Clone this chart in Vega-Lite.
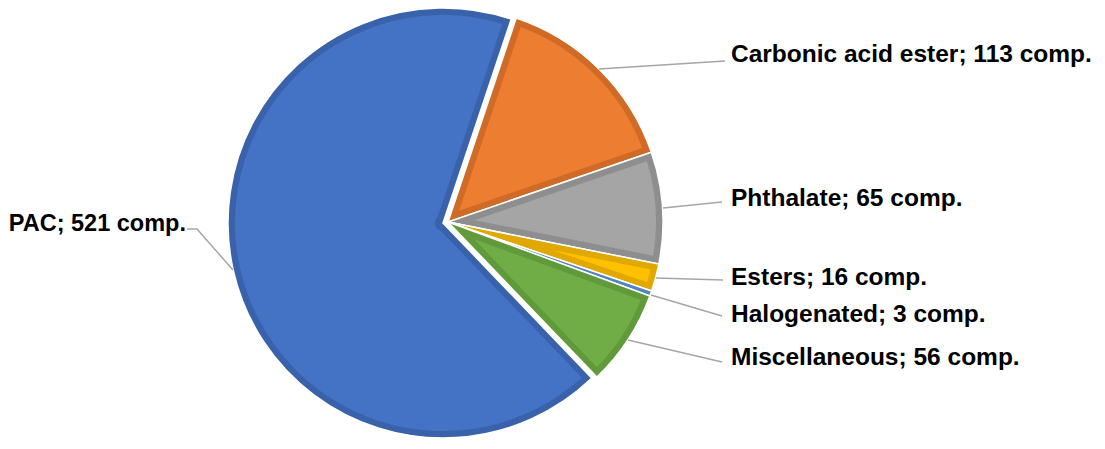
{
  "$schema": "https://vega.github.io/schema/vega-lite/v6.json",
  "width": 1105,
  "height": 449,
  "autosize": {"type": "fit", "contains": "padding"},
  "padding": 0,
  "background": "white",
  "config": {"view": {"stroke": null}},
  "datasets": {
    "slices": [
      {"category": "Carbonic acid ester", "count": 113, "order": 1},
      {"category": "Phthalate", "count": 65, "order": 2},
      {"category": "Esters", "count": 16, "order": 3},
      {"category": "Halogenated", "count": 3, "order": 4},
      {"category": "Miscellaneous", "count": 56, "order": 5},
      {"category": "PAC", "count": 521, "order": 6}
    ],
    "labels": [
      {"category": "Carbonic acid ester", "label": "Carbonic acid ester; 113 comp.", "lx": 731, "ly": 62},
      {"category": "Phthalate", "label": "Phthalate; 65 comp.", "lx": 731, "ly": 206},
      {"category": "Esters", "label": "Esters; 16 comp.", "lx": 731, "ly": 285},
      {"category": "Halogenated", "label": "Halogenated; 3 comp.", "lx": 731, "ly": 322},
      {"category": "Miscellaneous", "label": "Miscellaneous; 56 comp.", "lx": 731, "ly": 365},
      {"category": "PAC", "label": "PAC; 521 comp.", "lx": 186, "ly": 231}
    ],
    "leaders": [
      {"category": "Carbonic acid ester", "seq": 1, "px": 599, "py": 69},
      {"category": "Carbonic acid ester", "seq": 2, "px": 725, "py": 61},
      {"category": "Phthalate", "seq": 1, "px": 663, "py": 208},
      {"category": "Phthalate", "seq": 2, "px": 722, "py": 202},
      {"category": "Esters", "seq": 1, "px": 656, "py": 278},
      {"category": "Esters", "seq": 2, "px": 723, "py": 280},
      {"category": "Halogenated", "seq": 1, "px": 651, "py": 295},
      {"category": "Halogenated", "seq": 2, "px": 722, "py": 316},
      {"category": "Miscellaneous", "seq": 1, "px": 628, "py": 340},
      {"category": "Miscellaneous", "seq": 2, "px": 722, "py": 362},
      {"category": "PAC", "seq": 1, "px": 187, "py": 229},
      {"category": "PAC", "seq": 2, "px": 197, "py": 229},
      {"category": "PAC", "seq": 3, "px": 233, "py": 270}
    ]
  },
  "resolve": {"scale": {"color": "independent"}},
  "layer": [
    {
      "data": {"name": "slices"},
      "transform": [
        {"stack": "count", "groupby": [], "sort": [{"field": "order", "order": "ascending"}], "as": ["t0", "t1"]},
        {"filter": "datum.category === 'PAC'"}
      ],
      "mark": {"type": "arc", "outerRadius": 215, "innerRadius": 0, "stroke": "white", "strokeWidth": 1.5},
      "encoding": {
        "x": {"datum": 443, "type": "quantitative", "scale": {"domain": [0, 1105], "nice": false, "zero": false}, "axis": null},
        "y": {"datum": 223, "type": "quantitative", "scale": {"domain": [0, 449], "nice": false, "zero": false, "reverse": true}, "axis": null},
        "theta": {"field": "t0", "type": "quantitative", "stack": null, "scale": {"domain": [0, 774], "range": [0.3229, 6.6061], "nice": false, "zero": false}},
        "theta2": {"field": "t1"},
        "color": {"field": "category", "type": "nominal", "legend": null,
          "scale": {"domain": ["Carbonic acid ester", "Phthalate", "Esters", "Halogenated", "Miscellaneous", "PAC"],
                    "range": ["#cf6a27", "#8e8e8e", "#e0a800", "#4f86bb", "#619a3b", "#3a62ab"]}}
      }
    },
    {
      "data": {"name": "slices"},
      "transform": [
        {"stack": "count", "groupby": [], "sort": [{"field": "order", "order": "ascending"}], "as": ["t0", "t1"]},
        {"filter": "datum.category === 'PAC'"}
      ],
      "mark": {"type": "arc", "outerRadius": 208,
        "innerRadius": {"expr": "min(180, 6.99/sin((datum.t1-datum.t0)/774*PI))"},
        "padAngle": {"expr": "2*asin(7/sqrt(pow(min(180, 6.99/sin((datum.t1-datum.t0)/774*PI)),2)+43264))"}},
      "encoding": {
        "x": {"datum": 443, "type": "quantitative", "axis": null},
        "y": {"datum": 223, "type": "quantitative", "axis": null},
        "theta": {"field": "t0", "type": "quantitative", "stack": null},
        "theta2": {"field": "t1"},
        "color": {"field": "category", "type": "nominal", "legend": null,
          "scale": {"domain": ["Carbonic acid ester", "Phthalate", "Esters", "Halogenated", "Miscellaneous", "PAC"],
                    "range": ["#ed7d31", "#a5a5a5", "#ffc000", "#5b9bd5", "#70ad47", "#4472c4"]}}
      }
    },
    {
      "data": {"name": "slices"},
      "transform": [
        {"stack": "count", "groupby": [], "sort": [{"field": "order", "order": "ascending"}], "as": ["t0", "t1"]},
        {"filter": "datum.category !== 'PAC'"}
      ],
      "mark": {"type": "arc", "outerRadius": 215, "innerRadius": 0, "stroke": "white", "strokeWidth": 1.5},
      "encoding": {
        "x": {"datum": 448, "type": "quantitative", "axis": null},
        "y": {"datum": 222, "type": "quantitative", "axis": null},
        "theta": {"field": "t0", "type": "quantitative", "stack": null},
        "theta2": {"field": "t1"},
        "color": {"field": "category", "type": "nominal", "legend": null,
          "scale": {"domain": ["Carbonic acid ester", "Phthalate", "Esters", "Halogenated", "Miscellaneous", "PAC"],
                    "range": ["#cf6a27", "#8e8e8e", "#e0a800", "#4f86bb", "#619a3b", "#3a62ab"]}}
      }
    },
    {
      "data": {"name": "slices"},
      "transform": [
        {"stack": "count", "groupby": [], "sort": [{"field": "order", "order": "ascending"}], "as": ["t0", "t1"]},
        {"filter": "datum.category !== 'PAC'"}
      ],
      "mark": {"type": "arc", "outerRadius": 208,
        "innerRadius": {"expr": "min(180, 6.99/sin((datum.t1-datum.t0)/774*PI))"},
        "padAngle": {"expr": "2*asin(7/sqrt(pow(min(180, 6.99/sin((datum.t1-datum.t0)/774*PI)),2)+43264))"}},
      "encoding": {
        "x": {"datum": 448, "type": "quantitative", "axis": null},
        "y": {"datum": 222, "type": "quantitative", "axis": null},
        "theta": {"field": "t0", "type": "quantitative", "stack": null},
        "theta2": {"field": "t1"},
        "color": {"field": "category", "type": "nominal", "legend": null,
          "scale": {"domain": ["Carbonic acid ester", "Phthalate", "Esters", "Halogenated", "Miscellaneous", "PAC"],
                    "range": ["#ed7d31", "#a5a5a5", "#ffc000", "#5b9bd5", "#70ad47", "#4472c4"]}}
      }
    },
    {
      "data": {"name": "leaders"},
      "mark": {"type": "line", "stroke": "#a6a6a6", "strokeWidth": 1.5},
      "encoding": {
        "x": {"field": "px", "type": "quantitative", "axis": null},
        "y": {"field": "py", "type": "quantitative", "axis": null},
        "detail": {"field": "category"},
        "order": {"field": "seq"}
      }
    },
    {
      "data": {"name": "labels"},
      "transform": [{"filter": "datum.category !== 'PAC'"}],
      "mark": {"type": "text", "font": "Liberation Sans", "fontWeight": "bold", "fontSize": 24.5, "align": "left", "baseline": "alphabetic", "fill": "#000000"},
      "encoding": {
        "x": {"field": "lx", "type": "quantitative", "axis": null},
        "y": {"field": "ly", "type": "quantitative", "axis": null},
        "text": {"field": "label"}
      }
    },
    {
      "data": {"name": "labels"},
      "transform": [{"filter": "datum.category === 'PAC'"}],
      "mark": {"type": "text", "font": "Liberation Sans", "fontWeight": "bold", "fontSize": 23.5, "align": "right", "baseline": "alphabetic", "fill": "#000000"},
      "encoding": {
        "x": {"field": "lx", "type": "quantitative", "axis": null},
        "y": {"field": "ly", "type": "quantitative", "axis": null},
        "text": {"field": "label"}
      }
    }
  ]
}
